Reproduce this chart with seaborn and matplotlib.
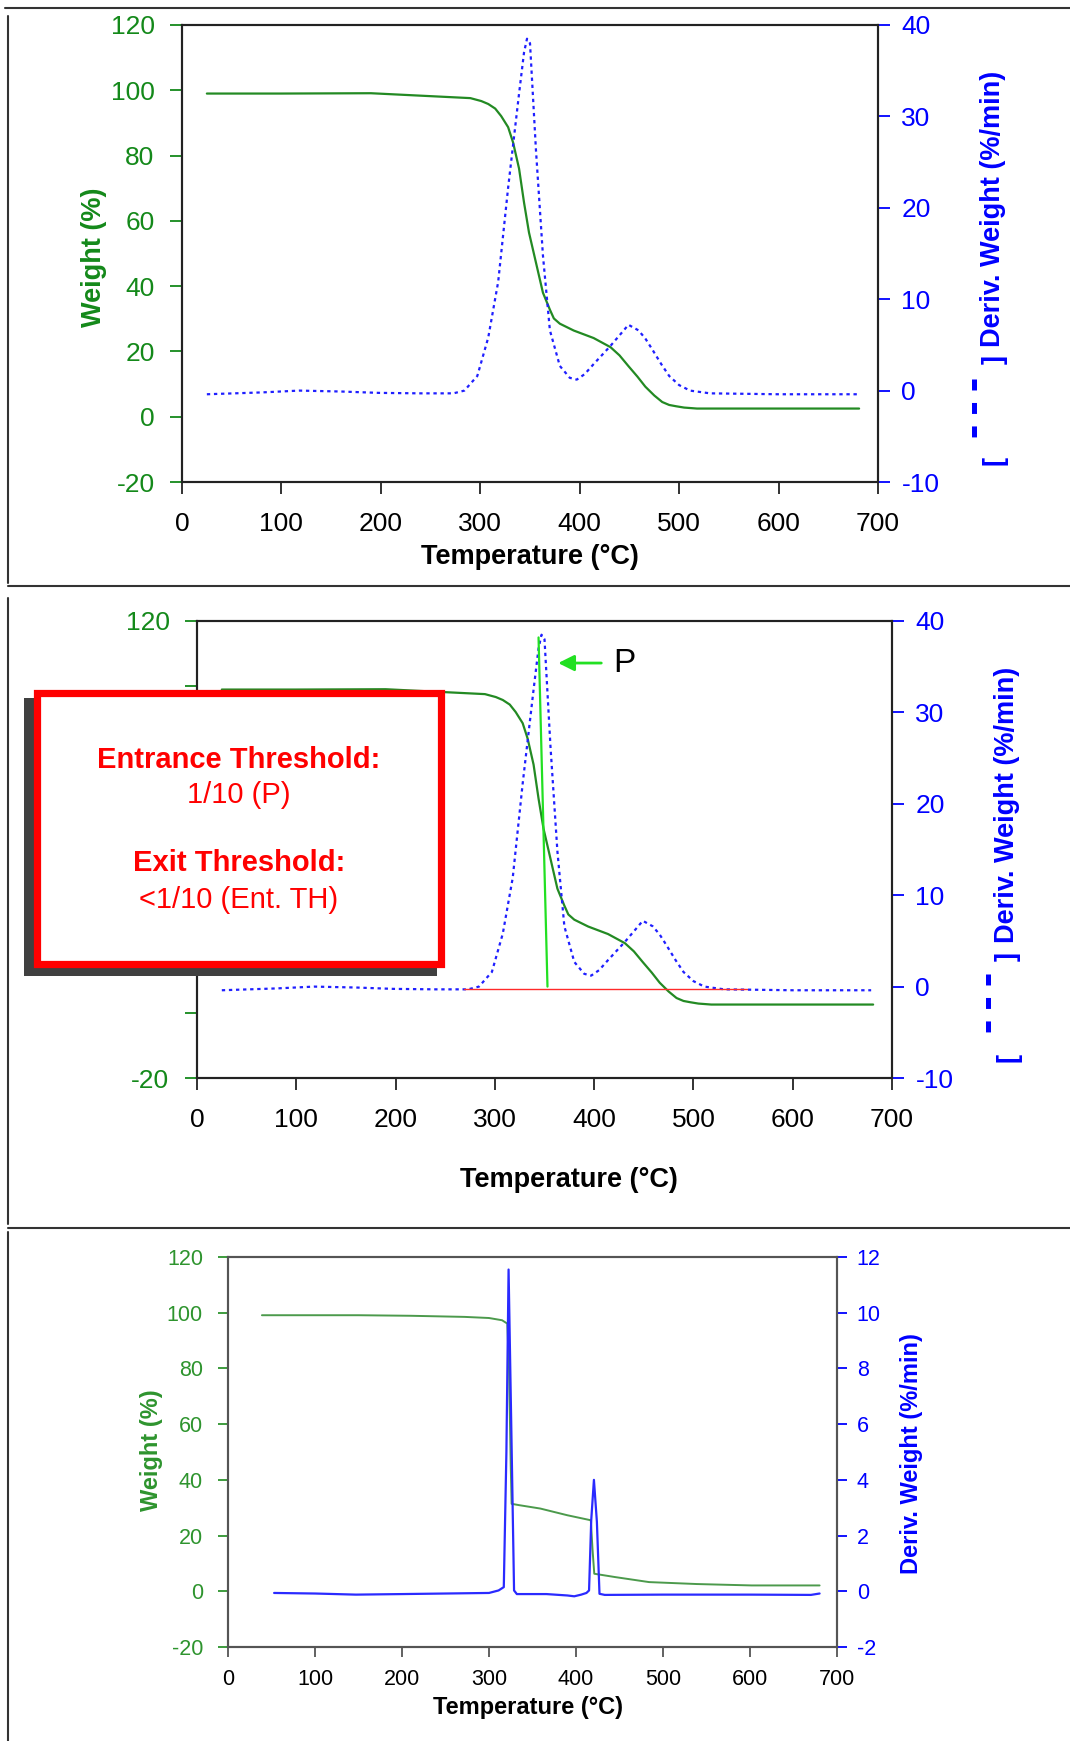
import matplotlib
matplotlib.use('Agg')
import matplotlib.pyplot as plt
import seaborn as sns
from matplotlib.patches import Rectangle
from matplotlib.lines import Line2D

# TGA run A (top two panels show the same run)
tga_temp = [25, 100, 190, 250, 290, 301, 308, 315, 321, 328, 333, 339, 344, 349, 356, 363, 370,
            374, 380, 394, 414, 431, 440, 449, 458, 466, 475, 483, 490, 497, 505, 518, 600, 681]
tga_weight = [99.0, 99.0, 99.1, 98.2, 97.6, 96.7, 95.8, 94.4, 92.1, 88.7, 84.0, 76.0, 65.6, 56.4, 47.2, 38.0, 32.8,
              30.1, 28.5, 26.4, 24.1, 21.3, 18.8, 15.5, 12.3, 9.2, 6.5, 4.5, 3.6, 3.2, 2.8, 2.5, 2.5, 2.5]
dtg_temp = [25, 80, 118, 160, 198, 240, 273, 284, 297, 308, 318, 328, 339, 344, 347, 350, 356, 363,
            370, 380, 390, 397, 405, 414, 431, 442, 449, 459, 466, 473, 482, 490, 500, 511, 531, 600, 679]
dtg_deriv = [-0.4, -0.2, 0.0, -0.1, -0.25, -0.3, -0.3, 0.0, 1.6, 5.8, 11.9, 22.2, 32.5, 37.0, 38.5, 38.0, 26.3, 14.8,
             6.6, 2.7, 1.4, 1.2, 1.8, 2.9, 4.9, 6.3, 7.2, 6.6, 5.7, 4.5, 2.9, 1.6, 0.6, 0.0, -0.3, -0.4, -0.4]

# threshold markers on the middle panel
peak_line_temp = [344, 353]
peak_line_deriv = [38.2, 0.0]
base_line_temp = [269, 554]
base_line_deriv = [-0.3, -0.3]

# TGA run B (bottom panel)
tga2_temp = [39, 150, 210, 272, 300, 315, 321, 323, 325, 326, 335, 359, 390, 417, 419, 421,
             445, 484, 539, 602, 680]
tga2_weight = [99.1, 99.1, 98.9, 98.5, 98.1, 97.3, 96.1, 80.0, 45.0, 31.4, 30.9, 29.7, 27.3, 25.5, 15.0, 6.3,
               5.1, 3.3, 2.6, 2.1, 2.1]
dtg2_temp = [53, 100, 147, 200, 250, 300, 311, 317, 320, 322.5, 325.5, 328.8, 332, 366, 390, 398, 406,
             412, 415, 417.5, 420.6, 424, 427, 433, 500, 600, 670, 680]
dtg2_deriv = [-0.06, -0.08, -0.12, -0.1, -0.08, -0.06, 0.03, 0.15, 5.0, 11.55, 6.1, 0.03, -0.1, -0.1, -0.15, -0.18, -0.12,
              -0.06, 0.03, 2.55, 4.0, 2.5, -0.09, -0.13, -0.12, -0.12, -0.13, -0.08]

x_ticks = [0, 100, 200, 300, 400, 500, 600, 700]
w_ticks = [-20, 0, 20, 40, 60, 80, 100, 120]
d_ticks = [-10, 0, 10, 20, 30, 40]
d2_ticks = [-2, 0, 2, 4, 6, 8, 10, 12]

sns.set_style('white')
plt.rcParams['font.family'] = ['Liberation Sans', 'DejaVu Sans']
plt.rcParams['axes.unicode_minus'] = False
plt.rcParams['lines.scale_dashes'] = False

W, H = 1070, 1741
GREEN = '#14891a'
BLUE = '#0000ff'
DOTS = (0, (2.4, 2.7))


def fx(px):
    return px / W


def fy(py):
    return 1 - py / H


def rect(l, t, r, b):
    return [fx(l), fy(b), (r - l) / W, (b - t) / H]


fig = plt.figure(figsize=(W / 100, H / 100), dpi=100)


def tga_axes(box, dlim, dticks, fs, tick_len, pads, spine_col):
    ax = fig.add_axes(box)
    ax2 = ax.twinx()
    ax.set_xlim(0, 700)
    ax.set_ylim(-20, 120)
    ax2.set_ylim(*dlim)
    ax.set_xticks(x_ticks)
    ax.set_yticks(w_ticks)
    ax2.set_yticks(dticks)
    for a in (ax, ax2):
        for s in a.spines.values():
            s.set_color(spine_col)
            s.set_linewidth(1.5)
    ax.tick_params(axis='y', direction='out', length=tick_len, width=1.3, color=GREEN,
                   labelcolor=GREEN, labelsize=fs, pad=pads[0], left=True)
    ax.tick_params(axis='x', direction='out', length=tick_len, width=1.3, color=spine_col,
                   labelcolor='black', labelsize=fs, pad=pads[1], bottom=True)
    ax2.tick_params(axis='y', direction='out', length=tick_len, width=1.3, color=BLUE,
                    labelcolor=BLUE, labelsize=fs, pad=pads[2], right=True)
    ax.grid(False)
    ax2.grid(False)
    return ax, ax2


def labels(ax, ax2, fs, xl, yl, dl, weight_label=True):
    ax.set_xlabel('Temperature (°C)', fontsize=fs, fontweight='bold', color='black')
    ax.xaxis.set_label_coords(*xl)
    ax.xaxis.label.set_va('center')
    if weight_label:
        ax.set_ylabel('Weight (%)', fontsize=fs, fontweight='bold', color=GREEN)
        ax.yaxis.set_label_coords(*yl)
        ax.yaxis.label.set_va('center')
    ax2.set_ylabel('Deriv. Weight (%/min)', fontsize=fs, fontweight='bold', color=BLUE)
    ax2.yaxis.set_label_coords(*dl)
    ax2.yaxis.label.set_va('center')


def bracket(ax2, xb, yt, yb, xd, yd0, yd1, fs):
    # rotated "[ - - - ]" legend sample next to the derivative label
    ax2.text(xb, yt, ']', transform=ax2.transAxes, rotation=90, color=BLUE,
             fontweight='bold', fontsize=fs, ha='center', va='center')
    ax2.text(xb, yb, '[', transform=ax2.transAxes, rotation=90, color=BLUE,
             fontweight='bold', fontsize=fs, ha='center', va='center')
    ax2.add_line(Line2D([xd, xd], [yd1, yd0], transform=ax2.transAxes, clip_on=False,
                        color=BLUE, lw=3.6, linestyle=(0, (7.9, 9.0))))


# ---- panel 1
ax, ax2 = tga_axes(rect(182, 25, 878, 482), (-10, 40), d_ticks, 19, 8.3, (11.5, 13.5, 8.6), '#222222')
sns.lineplot(x=tga_temp, y=tga_weight, ax=ax, color='#238a23', lw=1.6, estimator=None)
sns.lineplot(x=dtg_temp, y=dtg_deriv, ax=ax2, color='#1f1fff', lw=1.6, linestyle=DOTS, estimator=None)
labels(ax, ax2, 19.5, (0.5, -0.164), (-0.126, 0.492), (1.165, 0.597))
bracket(ax2, 1.168, 0.267, 0.046, 1.138, 0.088, 0.226, 19.5)

# ---- panel 2
ax, ax2 = tga_axes(rect(197, 621, 892, 1078), (-10, 40), d_ticks, 19, 8.3, (11.5, 13.5, 8.6), '#222222')
ax.set_yticklabels(['-20', '', '', '', '', '', '', '120'])
sns.lineplot(x=tga_temp, y=tga_weight, ax=ax, color='#238a23', lw=1.6, estimator=None)
sns.lineplot(x=dtg_temp, y=dtg_deriv, ax=ax2, color='#1f1fff', lw=1.6, linestyle=DOTS, estimator=None)
sns.lineplot(x=base_line_temp, y=base_line_deriv, ax=ax2, color='#ff2a2a', lw=1.0, estimator=None)
sns.lineplot(x=peak_line_temp, y=peak_line_deriv, ax=ax2, color='#22e022', lw=1.6, estimator=None, sort=False)
ax2.annotate('', xy=(361, 35.4), xytext=(410, 35.4),
             arrowprops=dict(arrowstyle='-|>', color='#22e022', lw=2.0, mutation_scale=24))
ax2.text(430, 35.4, 'P', fontsize=24, color='black', ha='center', va='center')
labels(ax, ax2, 19.5, (0.535, -0.223), None, (1.165, 0.597), weight_label=False)
bracket(ax2, 1.167, 0.265, 0.044, 1.138, 0.083, 0.228, 19.5)

# threshold box covering the left of panel 2
fig.add_artist(Rectangle((fx(24), fy(976)), (437 - 24) / W, (976 - 698) / H, transform=fig.transFigure,
                         facecolor='#404040', edgecolor='none', zorder=10))
fig.add_artist(Rectangle((fx(36.5), fy(964.5)), (440.5 - 36.5) / W, (964.5 - 693.5) / H,
                         transform=fig.transFigure, facecolor='white', edgecolor='#ff0000', lw=5.2, zorder=11))
box_lines = [('Entrance Threshold:', 760.5, 'bold'), ('1/10 (P)', 795, 'normal'),
             ('Exit Threshold:', 863.5, 'bold'), ('<1/10 (Ent. TH)', 900, 'normal')]
for txt, py, fw in box_lines:
    fig.text(fx(239), fy(py), txt, ha='center', va='center', color='#ff0000',
             fontsize=21, fontweight=fw, zorder=12)

# ---- panel 3
GREEN3 = '#2e942e'
ax, ax2 = tga_axes(rect(228, 1257, 837, 1647), (-2, 12), d2_ticks, 15.5, 7.2, (10.8, 8.6, 7.0), '#555555')
ax.tick_params(axis='y', labelcolor=GREEN3, color=GREEN3)
sns.lineplot(x=tga2_temp, y=tga2_weight, ax=ax, color='#4c9a4c', lw=1.4, estimator=None)
sns.lineplot(x=dtg2_temp, y=dtg2_deriv, ax=ax2, color='#2a2aff', lw=1.6, estimator=None)
labels(ax, ax2, 17, (0.493, -0.154), (-0.125, 0.505), (1.123, 0.495))
ax.yaxis.label.set_color(GREEN3)

# panel frame lines
frame = [([5, W], [8, 8]), ([8, 8], [16, 583]), ([8, W], [586, 586]), ([8, 8], [598, 1224]),
         ([8, W], [1228, 1228]), ([8, 8], [1232, H])]
for xs, ys in frame:
    fig.add_artist(Line2D([fx(v) for v in xs], [fy(v) for v in ys], transform=fig.transFigure,
                          color='#333333', lw=1.5))

fig.savefig('out.png', dpi=100)
